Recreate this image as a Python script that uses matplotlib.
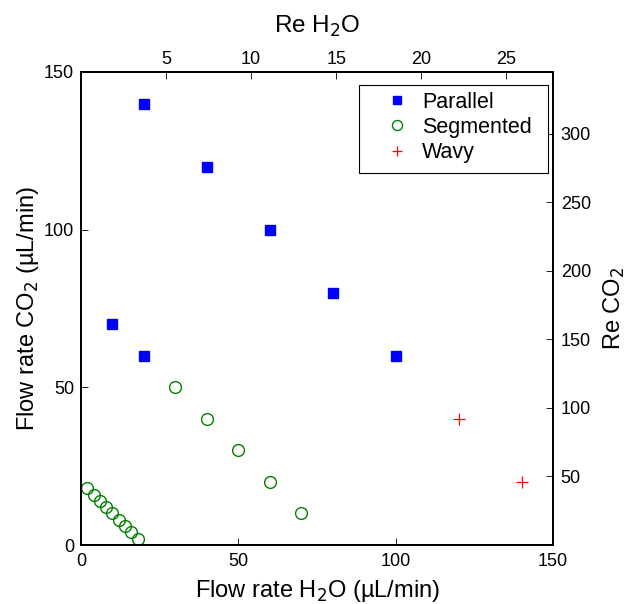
import matplotlib
matplotlib.use("Agg")
import matplotlib.pyplot as plt
from matplotlib.patches import Rectangle

plt.rcParams['font.family'] = ['Liberation Sans', 'DejaVu Sans']

par_x = [20, 40, 60, 80, 100, 10, 20]
par_y = [140, 120, 100, 80, 60, 70, 60]
seg_x = [30, 40, 50, 60, 70, 2, 4, 6, 8, 10, 12, 14, 16, 18]
seg_y = [50, 40, 30, 20, 10, 18, 16, 14, 12, 10, 8, 6, 4, 2]
wav_x = [120, 140]
wav_y = [40, 20]

re_h2o_ticks = [5, 10, 15, 20, 25]
re_co2_ticks = [50, 100, 150, 200, 250, 300]
re_h2o_factor = 0.185
re_co2_factor = 2.3

W, H = 629, 604
fig = plt.figure(figsize=(W/100, H/100), dpi=100)
ax = fig.add_axes([81/W, 1-545/H, (553-81)/W, (545-72)/H])

ax.plot(par_x, par_y, 's', color='#0000ff', ms=6.5, mec='#0000ff', label='Parallel', ls='none')
ax.plot(seg_x, seg_y, 'o', mfc='none', mec='#008000', ms=8.5, mew=1.0, label='Segmented', ls='none')
ax.plot(wav_x, wav_y, '+', color='#ff0000', ms=8, mew=0.9, label='Wavy', ls='none')

ax.set_xlim(0, 150)
ax.set_ylim(0, 150)
ax.set_xticks([0, 50, 100, 150])
ax.set_yticks([0, 50, 100, 150])
ax.tick_params(direction='in', labelsize=13, length=5, width=0.6, top=False, right=False)
ax.tick_params(axis='x', pad=6)
ax.tick_params(axis='y', pad=5)
for s in ax.spines.values():
    s.set_linewidth(1.2)
ax.set_xlabel('Flow rate H$_2$O (µL/min)', fontsize=17, labelpad=5.5)
ax.set_ylabel('Flow rate CO$_2$ (µL/min)', fontsize=17, labelpad=2)

ax_top = ax.twiny()
ax_top.set_xlim(0, 150 * re_h2o_factor)
ax_top.set_xticks(re_h2o_ticks)
ax_top.tick_params(direction='in', labelsize=13, length=5, width=0.6, pad=3)
ax_top.set_xlabel('Re H$_2$O', fontsize=17.5, labelpad=13)

ax_r = ax.twinx()
ax_r.set_ylim(0, 150 * re_co2_factor)
ax_r.set_yticks(re_co2_ticks)
ax_r.tick_params(direction='in', labelsize=13, length=5, width=0.6, pad=5.5)
ax_r.set_ylabel('Re CO$_2$', fontsize=17, labelpad=8)
for a in (ax_top, ax_r):
    for s in a.spines.values():
        s.set_linewidth(1.2)

# legend frame drawn as a rectangle on the top-most axes
frame = Rectangle((359/W, 1-173/H), (548-359)/W, (173-85)/H,
                  transform=fig.transFigure, fill=True, facecolor='white',
                  edgecolor='black', linewidth=0.8, zorder=5, clip_on=False)
ax_r.add_patch(frame)
handles, labels = ax.get_legend_handles_labels()
leg = ax_r.legend(handles, labels, loc='upper left', bbox_to_anchor=(359/W, 1-76.5/H),
                  bbox_transform=fig.transFigure, borderaxespad=0,
                  fontsize=15.5, frameon=False, handlelength=2.13, handletextpad=0.1,
                  labelspacing=0.2, borderpad=0.7, markerscale=0.85)
leg.set_zorder(6)

fig.savefig('out.png', dpi=100)
